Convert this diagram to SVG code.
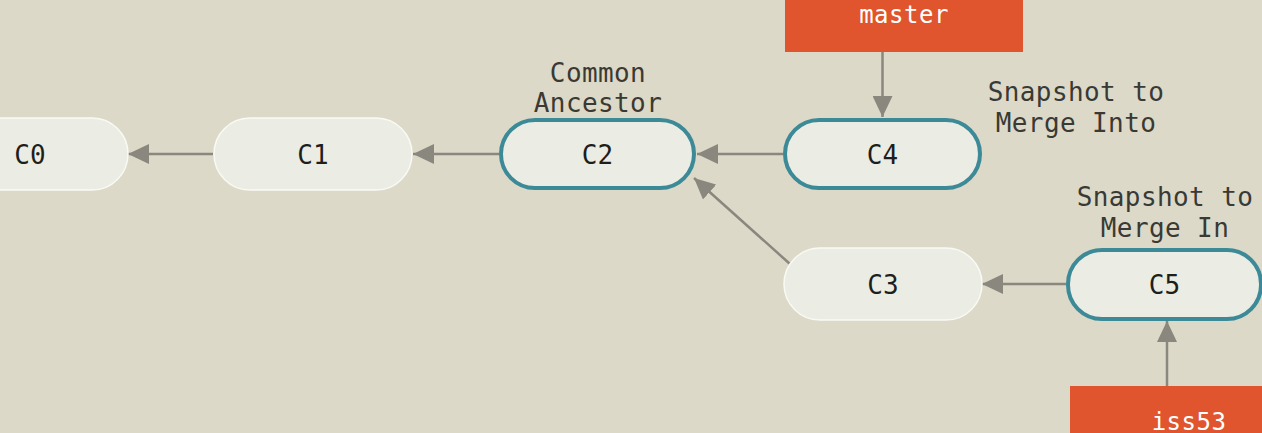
<svg xmlns="http://www.w3.org/2000/svg" width="1262" height="433" viewBox="0 0 1262 433">
<style>
.bg{fill:#DCD9C8}
.node{fill:#EBECE4;stroke:#FAFAF5;stroke-width:1.5}
.hl{fill:#EBECE4;stroke:#3C8A97;stroke-width:4}
.lbl{font-family:"DejaVu Sans Mono","Liberation Mono",monospace;font-size:26px;fill:#1E1E1C;text-anchor:middle}
.note{font-family:"DejaVu Sans Mono","Liberation Mono",monospace;font-size:26px;letter-spacing:0.4px;fill:#3A3934;text-anchor:middle}
.br{fill:#E0552D}
.brt{font-family:"DejaVu Sans Mono","Liberation Mono",monospace;font-size:24px;letter-spacing:0.5px;fill:#FFFFFF;text-anchor:middle}
.edge{stroke:#8A877E;stroke-width:2.5;fill:none;marker-end:url(#ah)}
</style>
<defs>
<marker id="ah" markerUnits="userSpaceOnUse" markerWidth="21" markerHeight="20" refX="21" refY="10" orient="auto">
<path d="M0,0 L21,10 L0,20 Z" fill="#8A877E"/>
</marker>
</defs>
<rect class="bg" x="0" y="0" width="1262" height="433"/>
<g id="connectors">
<line class="edge" x1="213" y1="154" x2="128" y2="154"/>
<line class="edge" x1="499" y1="154" x2="413" y2="154"/>
<line class="edge" x1="783" y1="154" x2="697" y2="154"/>
<line class="edge" x1="790" y1="264" x2="694" y2="178"/>
<line class="edge" x1="1066" y1="284" x2="982" y2="284"/>
<line class="edge" x1="882.5" y1="52" x2="882.5" y2="117"/>
<line class="edge" x1="1167" y1="386" x2="1167" y2="321"/>
</g>
<g id="C0">
<rect class="node" x="-70" y="118" width="198" height="72" rx="36"/>
<text class="lbl" x="30" y="163.5">C0</text>
</g>
<g id="C1">
<rect class="node" x="214" y="118" width="198" height="72" rx="36"/>
<text class="lbl" x="313" y="163.5">C1</text>
</g>
<g id="C2">
<rect class="hl" x="501" y="120" width="193" height="68" rx="34"/>
<text class="lbl" x="597.5" y="163.5">C2</text>
</g>
<g id="C4">
<rect class="hl" x="785" y="120" width="195" height="68" rx="34"/>
<text class="lbl" x="882.5" y="163.5">C4</text>
</g>
<g id="C3">
<rect class="node" x="784" y="248" width="198" height="72" rx="36"/>
<text class="lbl" x="883" y="293.5">C3</text>
</g>
<g id="C5">
<rect class="hl" x="1068" y="250" width="193" height="69" rx="34"/>
<text class="lbl" x="1164.5" y="293.5">C5</text>
</g>
<g id="label-common-ancestor">
<text class="note" x="598" y="82">Common</text>
<text class="note" x="598" y="112">Ancestor</text>
</g>
<g id="label-merge-into">
<text class="note" x="1076" y="101">Snapshot to</text>
<text class="note" x="1076" y="132">Merge Into</text>
</g>
<g id="label-merge-in">
<text class="note" x="1165" y="206">Snapshot to</text>
<text class="note" x="1165" y="237">Merge In</text>
</g>
<g id="master">
<rect class="br" x="785" y="-10" width="238" height="62"/>
<text class="brt" x="904" y="23">master</text>
</g>
<g id="iss53">
<rect class="br" x="1070" y="386" width="240" height="60"/>
<text class="brt" x="1189" y="430">iss53</text>
</g>
</svg>
